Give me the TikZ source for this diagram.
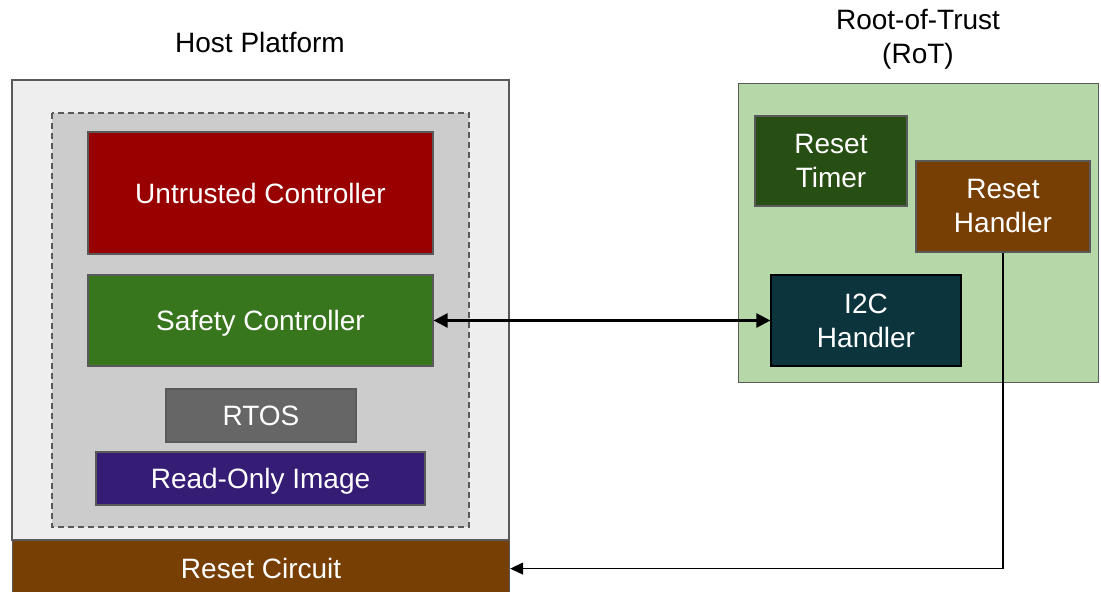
\documentclass[tikz,border=0pt]{standalone}
\usepackage{fontspec}
\setmainfont{Liberation Sans}
\usetikzlibrary{arrows.meta}
\definecolor{hostbg}{HTML}{EEEEEE}
\definecolor{innerbg}{HTML}{CCCCCC}
\definecolor{edgegray}{HTML}{595959}
\definecolor{untrusted}{HTML}{990000}
\definecolor{safety}{HTML}{38761D}
\definecolor{rtos}{HTML}{666666}
\definecolor{roimg}{HTML}{351C75}
\definecolor{brownc}{HTML}{783F04}
\definecolor{rotbg}{HTML}{B6D7A8}
\definecolor{timerc}{HTML}{274E13}
\definecolor{i2cc}{HTML}{0C343D}
\tikzset{
  blk/.style={draw=edgegray, line width=1.2pt, text=white, align=center,
    inner sep=0pt, font=\fontsize{28}{34}\selectfont},
  oneline/.style={text height=20pt, text depth=0pt},
  ttl/.style={align=center, font=\fontsize{28}{34}\selectfont, text=black},
}
\begin{document}
\begin{tikzpicture}[x=1pt,y=-1pt]
\useasboundingbox (0,0) rectangle (1101,592);
% host platform
\node[ttl] (hosttitle) at (260,42) {Host Platform};
\draw[draw=edgegray, line width=1.2pt, fill=hostbg] (12,80) rectangle (509,540);
\node[blk, oneline, fill=brownc, minimum width=497pt, minimum height=56pt, anchor=north west] (reset) at (12,540) {Reset Circuit};
\draw[draw=edgegray, line width=1.2pt, fill=innerbg, dashed, dash pattern=on 6pt off 4pt] (52,113) rectangle (469,527);
\node[blk, oneline, fill=untrusted, minimum width=345pt, minimum height=122pt] (untr) at (260.5,193) {Untrusted Controller};
\node[blk, oneline, fill=safety, minimum width=345pt, minimum height=91pt] (safe) at (260.5,320.5) {Safety Controller};
\node[blk, oneline, fill=rtos, minimum width=190pt, minimum height=53pt] (rtos) at (261,415.5) {RTOS};
\node[blk, oneline, fill=roimg, minimum width=329pt, minimum height=53pt] (roi) at (260.5,478.5) {Read-Only Image};
% root of trust
\node[ttl] (rottitle) at (918,39) {Root-of-Trust\\(RoT)};
\node[draw=edgegray, line width=1.2pt, fill=rotbg, minimum width=360pt, minimum height=299pt, anchor=north west] (rot) at (738,83) {};
\node[blk, fill=timerc, minimum width=152pt, minimum height=90pt] (timer) at (831,161) {Reset\\Timer};
\node[blk, fill=brownc, minimum width=174pt, minimum height=91pt] (handler) at (1003,206.5) {Reset\\Handler};
\node[blk, draw=black, fill=i2cc, minimum width=190pt, minimum height=91pt] (i2c) at (866,320.5) {I2C\\Handler};
% connectors
\draw[line width=2.6pt, {Triangle[length=14pt,width=14pt]}-{Triangle[length=14pt,width=14pt]}] (safe.east) -- (i2c.west);
\coordinate (corner) at (handler.south |- reset.east);
\draw[line width=1.3pt, -{Triangle[length=13pt,width=12pt]}] (handler.south) -- (corner) -- (reset.east |- corner);
\end{tikzpicture}
\end{document}
